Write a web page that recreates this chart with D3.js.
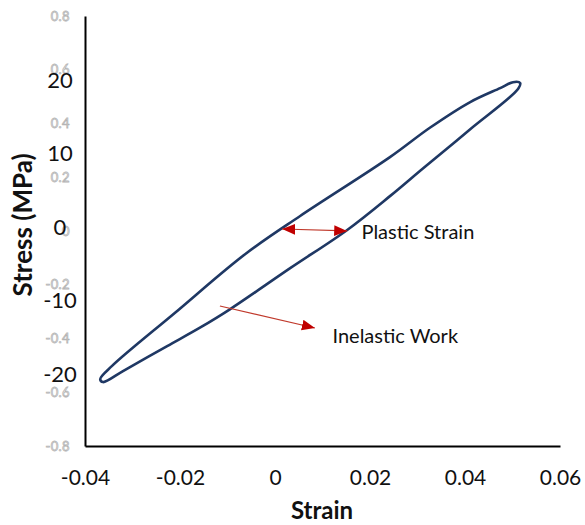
<!DOCTYPE html>
<html>
<head>
<meta charset="utf-8">
<script src="https://cdn.jsdelivr.net/npm/d3@7"></script>
<style>
  body { margin: 0; background: #fff; }
  text { font-family: Lato, "Open Sans", sans-serif; }
</style>
</head>
<body>
<div class="wrapper"></div>
<script>
// hysteresis loop, traced round from the lower-left tip
var strain = [-0.0368, -0.0343, -0.0211, -0.0063, 0.0053, 0.0242, 0.0326, 0.0411, 0.0474, 0.0501, 0.0516,
              0.0512, 0.0411, 0.0312, 0.0242, 0.0152, 0.0032, -0.0095, -0.0158, -0.0227, -0.0320, -0.0362];
var stress = [-20.7, -18.9, -11.7, -3.7, 1.5, 9.5, 13.5, 17.0, 18.9, 19.7, 19.6,
              18.8, 13.3, 8.0, 4.2, -0.4, -5.6, -11.2, -13.7, -16.2, -19.6, -21.1];

var xTicks = [-0.04, -0.02, 0, 0.02, 0.04, 0.06];
var xTickLabels = ["-0.04", "-0.02", "0", "0.02", "0.04", "0.06"];
var stressTicks = [20, 10, 0, -10, -20];
var stressTickLabels = ["20", "10", "0", "-10", "-20"];
// faint left-over axis labels behind the stress labels
var ghostTicks = [0.8, 0.6, 0.4, 0.2, 0, -0.2, -0.4, -0.6, -0.8];
var ghostTickLabels = ["0.8", "0.6", "0.4", "0.2", "0", "-0.2", "-0.4", "-0.6", "-0.8"];

// annotations: [strain, stress] start and end
var plasticArrow = [[0.0015, -0.27], [0.0152, -0.54]];
var inelasticArrow = [[-0.0116, -10.75], [0.0084, -13.74]];
var notes = [
  {text: "Plastic Strain", at: [0.0182, -0.7]},
  {text: "Inelastic Work", at: [0.0121, -14.8]}
];

var width = 585, height = 525;

var x = d3.scaleLinear().domain([-0.04, 0.06]).range([85, 560]);
var y = d3.scaleLinear().domain([-20, 20]).range([374, 80]);
var yGhost = d3.scaleLinear().domain([-0.8, 0.8]).range([446, 16]);

var svg = d3.select(".wrapper").append("svg")
    .attr("width", width)
    .attr("height", height);

var defs = svg.append("defs");
defs.append("marker")
    .attr("id", "head")
    .attr("markerUnits", "userSpaceOnUse")
    .attr("viewBox", "0 0 12 10")
    .attr("refX", 12).attr("refY", 5)
    .attr("markerWidth", 13).attr("markerHeight", 11)
    .attr("orient", "auto-start-reverse")
  .append("path")
    .attr("d", "M0,0L12,5L0,10Z")
    .attr("fill", "#c00000");

// ghost y axis (gives the vertical axis line)
var gy = svg.append("g")
    .attr("transform", "translate(85,0)")
    .call(d3.axisLeft(yGhost).tickValues(ghostTicks).tickSize(0).tickSizeOuter(0).tickPadding(15)
      .tickFormat(function(d, i) { return ghostTickLabels[i]; }));
gy.select(".domain").attr("stroke", "#000").attr("stroke-width", 2);
gy.selectAll("text")
    .style("font-family", "Lato, sans-serif")
    .style("font-size", "13px")
    .style("letter-spacing", "0.4px")
    .attr("fill", "#fff")
    .attr("stroke", "#b4b4b4")
    .attr("stroke-width", 0.8);

// x axis
var gx = svg.append("g")
    .attr("transform", "translate(0,446)")
    .call(d3.axisBottom(x).tickValues(xTicks).tickSize(0).tickSizeOuter(0).tickPadding(24)
      .tickFormat(function(d, i) { return xTickLabels[i]; }));
gx.select(".domain").attr("stroke", "#000").attr("stroke-width", 2);
gx.selectAll("text")
    .style("font-family", "Lato, sans-serif")
    .style("font-size", "21px")
    .attr("fill", "#111");

// stress labels
svg.append("g").selectAll("text")
    .data(stressTicks)
  .enter().append("text")
    .attr("x", 60)
    .attr("y", function(d) { return y(d); })
    .attr("dy", "0.36em")
    .attr("text-anchor", "middle")
    .style("font-size", "22px")
    .attr("fill", "#111")
    .text(function(d, i) { return stressTickLabels[i]; });

// axis titles
svg.append("text")
    .attr("x", 322).attr("y", 519)
    .attr("text-anchor", "middle")
    .style("font-size", "24px").style("font-weight", "bold")
    .attr("fill", "#111")
    .text("Strain");

svg.append("text")
    .attr("transform", "translate(32,225) rotate(-90)")
    .attr("text-anchor", "middle")
    .style("font-size", "26px").style("font-weight", "bold")
    .attr("fill", "#111")
    .text("Stress (MPa)");

// the loop
var loop = d3.line()
    .x(function(d) { return x(d[0]); })
    .y(function(d) { return y(d[1]); })
    .curve(d3.curveCatmullRomClosed.alpha(0.5));

svg.append("path")
    .datum(d3.zip(strain, stress))
    .attr("d", loop)
    .attr("fill", "none")
    .attr("stroke", "#1f3864")
    .attr("stroke-width", 2.6);

// arrows
var straight = d3.line()
    .x(function(d) { return x(d[0]); })
    .y(function(d) { return y(d[1]); });

svg.append("path")
    .datum(plasticArrow)
    .attr("d", straight)
    .attr("stroke", "#c0392b")
    .attr("stroke-width", 1.2)
    .attr("marker-start", "url(#head)")
    .attr("marker-end", "url(#head)");

svg.append("path")
    .datum(inelasticArrow)
    .attr("d", straight)
    .attr("stroke", "#c0392b")
    .attr("stroke-width", 1.2)
    .attr("marker-end", "url(#head)");

svg.append("g").selectAll("text")
    .data(notes)
  .enter().append("text")
    .attr("x", function(d) { return x(d.at[0]); })
    .attr("y", function(d) { return y(d.at[1]); })
    .attr("dy", "0.36em")
    .style("font-size", "20px")
    .attr("fill", "#111")
    .text(function(d) { return d.text; });
</script>
</body>
</html>
